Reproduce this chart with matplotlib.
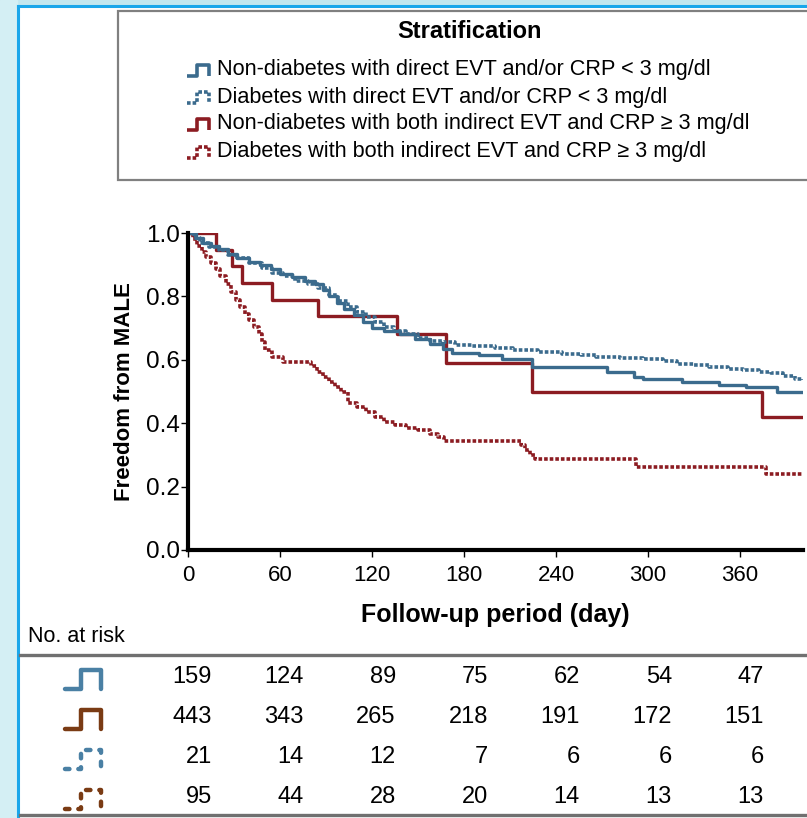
import matplotlib
matplotlib.use("Agg")
import matplotlib.pyplot as plt
from matplotlib.lines import Line2D
from matplotlib.patches import Rectangle
import matplotlib.transforms as mtransforms

plt.rcParams['font.family'] = ['Liberation Sans', 'DejaVu Sans']

W, H = 807, 818

# survival curves (day, freedom from MALE)
nd_direct_days = [0, 5, 10, 15, 20, 26, 32, 40, 47, 54, 60, 68, 76, 83, 88, 92, 97, 102, 108,
                  114, 120, 128, 138, 148, 158, 166, 172, 190, 205, 224, 273, 291, 297, 322,
                  346, 364, 384, 401]
nd_direct_surv = [1.0, 0.985, 0.97, 0.96, 0.95, 0.935, 0.92, 0.91, 0.90, 0.885, 0.87, 0.86,
                  0.85, 0.84, 0.82, 0.80, 0.78, 0.76, 0.74, 0.72, 0.70, 0.69, 0.68, 0.665,
                  0.65, 0.635, 0.62, 0.614, 0.603, 0.576, 0.56, 0.547, 0.54, 0.531, 0.522,
                  0.513, 0.499, 0.499]

d_direct_days = [0, 4, 8, 14, 20, 26, 32, 40, 48, 55, 62, 70, 78, 85, 92, 98, 104, 110, 116,
                 122, 128, 134, 142, 150, 158, 166, 174, 185, 200, 212, 228, 244, 256, 266,
                 282, 297, 310, 319, 330, 340, 352, 362, 372, 380, 388, 396, 401]
d_direct_surv = [1.0, 0.985, 0.97, 0.955, 0.945, 0.93, 0.92, 0.905, 0.89, 0.875, 0.865, 0.85,
                 0.84, 0.825, 0.805, 0.785, 0.765, 0.75, 0.735, 0.72, 0.705, 0.69, 0.68, 0.67,
                 0.66, 0.655, 0.648, 0.643, 0.637, 0.63, 0.625, 0.619, 0.614, 0.61, 0.607,
                 0.604, 0.597, 0.588, 0.583, 0.578, 0.572, 0.567, 0.563, 0.557, 0.55, 0.54,
                 0.536]

nd_indirect_days = [0, 18, 29, 35, 55, 85, 136, 168, 224, 374, 401]
nd_indirect_surv = [1.0, 0.947, 0.895, 0.842, 0.789, 0.737, 0.68, 0.59, 0.50, 0.42, 0.42]

d_indirect_days = [0, 3, 6, 9, 12, 15, 18, 21, 25, 28, 31, 34, 37, 40, 43, 46, 48, 50, 55, 62,
                   80, 84, 88, 92, 96, 100, 104, 110, 116, 122, 128, 135, 142, 150, 158, 163,
                   167, 217, 220, 223, 226, 292, 377, 401]
d_indirect_surv = [1.0, 0.98, 0.96, 0.94, 0.925, 0.905, 0.885, 0.865, 0.84, 0.815, 0.79, 0.765,
                   0.745, 0.725, 0.705, 0.68, 0.655, 0.63, 0.61, 0.592, 0.582, 0.56, 0.545,
                   0.53, 0.515, 0.50, 0.465, 0.45, 0.435, 0.42, 0.405, 0.395, 0.385, 0.378,
                   0.365, 0.355, 0.345, 0.33, 0.315, 0.30, 0.286, 0.262, 0.24, 0.24]

legend_labels = ["Non-diabetes with direct EVT and/or CRP < 3 mg/dl",
                 "Diabetes with direct EVT and/or CRP < 3 mg/dl",
                 "Non-diabetes with both indirect EVT and CRP \u2265 3 mg/dl",
                 "Diabetes with both indirect EVT and CRP \u2265 3 mg/dl"]

risk_days = [0, 60, 120, 180, 240, 300, 360]
risk_rows = [[159, 124, 89, 75, 62, 54, 47],
             [443, 343, 265, 218, 191, 172, 151],
             [21, 14, 12, 7, 6, 6, 6],
             [95, 44, 28, 20, 14, 13, 13]]

BLUE = '#3b6b8d'
RED = '#8c1c22'
TBLUE = '#4a80a4'
TBROWN = '#7a3b14'
DOT = (0, (1.0, 0.55))


def fx(x):
    return x / W


def fy(y):
    return 1 - y / H


fig = plt.figure(figsize=(W / 100, H / 100), dpi=100)

# slide frame
fig.patches.append(Rectangle((0, fy(6)), 1, 6 / H, transform=fig.transFigure,
                             color='#c3e7ef', zorder=0))
fig.patches.append(Rectangle((0, 0), fx(17), 1, transform=fig.transFigure,
                             color='#d4eff4', zorder=0))
fig.add_artist(Line2D([fx(18), 1], [fy(6), fy(6)], color='#1aa6ea', lw=2.2))
fig.add_artist(Line2D([fx(18), fx(18)], [0, fy(6)], color='#1aa6ea', lw=2.2))

# legend box
fig.patches.append(Rectangle((fx(118), fy(180)), 1, (180 - 11) / H, transform=fig.transFigure,
                             facecolor='white', edgecolor='#808080', lw=1.6, zorder=1))
fig.text(fx(470), fy(32), "Stratification", ha='center', va='center',
         fontsize=17, fontweight='bold')


def step_icon(x0, yc, w, h, color, style, lw, cap='butt'):
    xs = [x0, x0 + w * 0.45, x0 + w * 0.45, x0 + w, x0 + w]
    ys = [yc + h / 2, yc + h / 2, yc - h / 2, yc - h / 2, yc + h / 2]
    fig.add_artist(Line2D([fx(v) for v in xs], [fy(v) for v in ys], color=color, lw=lw,
                          linestyle=style, solid_capstyle=cap, dash_capstyle=cap))


leg_y = [70, 97, 124, 152]
leg_col = [BLUE, BLUE, RED, RED]
leg_dot = [False, True, False, True]
for lab, yy, c, d in zip(legend_labels, leg_y, leg_col, leg_dot):
    step_icon(187, yy, 22, 11, c, DOT if d else '-', 2.6)
    fig.text(fx(217), fy(yy), lab, ha='left', va='center', fontsize=15.6)

# survival plot
ax = fig.add_axes([fx(188), fy(550), fx(803) - fx(188), fy(233) - fy(550)])
ax.plot(d_indirect_days, d_indirect_surv, drawstyle='steps-post', color=RED, lw=2.6, ls=DOT)
ax.plot(nd_indirect_days, nd_indirect_surv, drawstyle='steps-post', color=RED, lw=2.4)
ax.plot(nd_direct_days, nd_direct_surv, drawstyle='steps-post', color=BLUE, lw=2.4)
ax.plot(d_direct_days, d_direct_surv, drawstyle='steps-post', color=BLUE, lw=2.6, ls=DOT)

ax.set_xlim(0, 401)
ax.set_ylim(0, 1.0)
ax.set_xticks(risk_days)
ax.set_yticks([0, 0.2, 0.4, 0.6, 0.8, 1.0])
ax.set_yticklabels(["0.0", "0.2", "0.4", "0.6", "0.8", "1.0"])
ax.tick_params(axis='x', labelsize=16, length=5, width=1, pad=6)
ax.tick_params(axis='y', labelsize=17.5, length=5, width=1, pad=1)
for s in ['top', 'right']:
    ax.spines[s].set_visible(False)
for s in ['left', 'bottom']:
    ax.spines[s].set_linewidth(3)
ax.set_xlabel("Follow-up period (day)", fontsize=18, fontweight='bold', labelpad=12)
ax.set_ylabel("Freedom from MALE", fontsize=16, fontweight='bold', labelpad=8)

# number at risk table
fig.text(fx(28), fy(636), "No. at risk", ha='left', va='center', fontsize=15.5)
fig.add_artist(Line2D([fx(20), 1], [fy(655), fy(655)], color='#707070', lw=2.4))
fig.add_artist(Line2D([fx(20), 1], [fy(815), fy(815)], color='#707070', lw=2.4))

trans = mtransforms.blended_transform_factory(ax.transData, fig.transFigure)
row_y = [679, 719, 759, 799]
row_col = [TBLUE, TBROWN, TBLUE, TBROWN]
row_dot = [False, False, True, True]
for vals, yy, c, d in zip(risk_rows, row_y, row_col, row_dot):
    step_icon(65, yy, 36, 19, c, (0, (1.0, 2.0)) if d else '-', 3.2, cap='round')
    for day, v in zip(risk_days, vals):
        ax.text(day + 15.5, fy(yy - 2), str(v), transform=trans, ha='right', va='center',
                fontsize=17)

fig.savefig("out.png", dpi=100)
